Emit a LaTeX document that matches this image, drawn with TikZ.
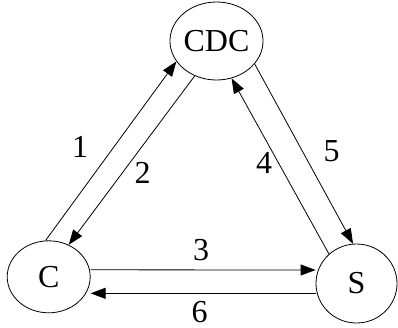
\documentclass[tikz,border=0pt]{standalone}
\usepackage{fontspec}
\setmainfont{Liberation Serif}
\usetikzlibrary{arrows.meta,shapes.geometric}
\begin{document}
\begin{tikzpicture}[x=1pt,y=-1pt,
  state/.style={draw,ellipse,inner sep=0pt,line width=0.8pt,font=\fontsize{32}{38}\selectfont},
  conn/.style={line width=0.8pt,-{Triangle[length=15pt,width=11pt]}},
  lbl/.style={inner sep=0pt,font=\fontsize{32}{38}\selectfont}]
\useasboundingbox (0,0) rectangle (398,327);
\node[state,minimum width=81pt,minimum height=78pt] (CDC) at (216.5,41) {CDC};
\node[state,minimum width=83pt,minimum height=72pt] (C) at (48.7,276.8) {C};
\node[state,minimum width=81pt,minimum height=79pt] (S) at (356.5,283.5) {S};
\draw[conn] (C.95) -- (CDC.207);
\draw[conn] (CDC.238) -- (C.58);
\draw[conn] ([yshift=7pt]C.east) -- ([yshift=13.5pt]S.west);
\draw[conn] ([yshift=-9.8pt]S.west) -- ([yshift=-16.5pt]C.east);
\draw[conn] (S.133.5) -- (CDC.292);
\draw[conn] (CDC.329.5) -- (S.95);
\node[lbl] (l1) at (80,147) {1};
\node[lbl] (l2) at (142.5,173) {2};
\node[lbl] (l3) at (201,250.5) {3};
\node[lbl] (l4) at (264,162.5) {4};
\node[lbl] (l5) at (331.7,151) {5};
\node[lbl] (l6) at (199.5,312) {6};
\end{tikzpicture}
\end{document}
